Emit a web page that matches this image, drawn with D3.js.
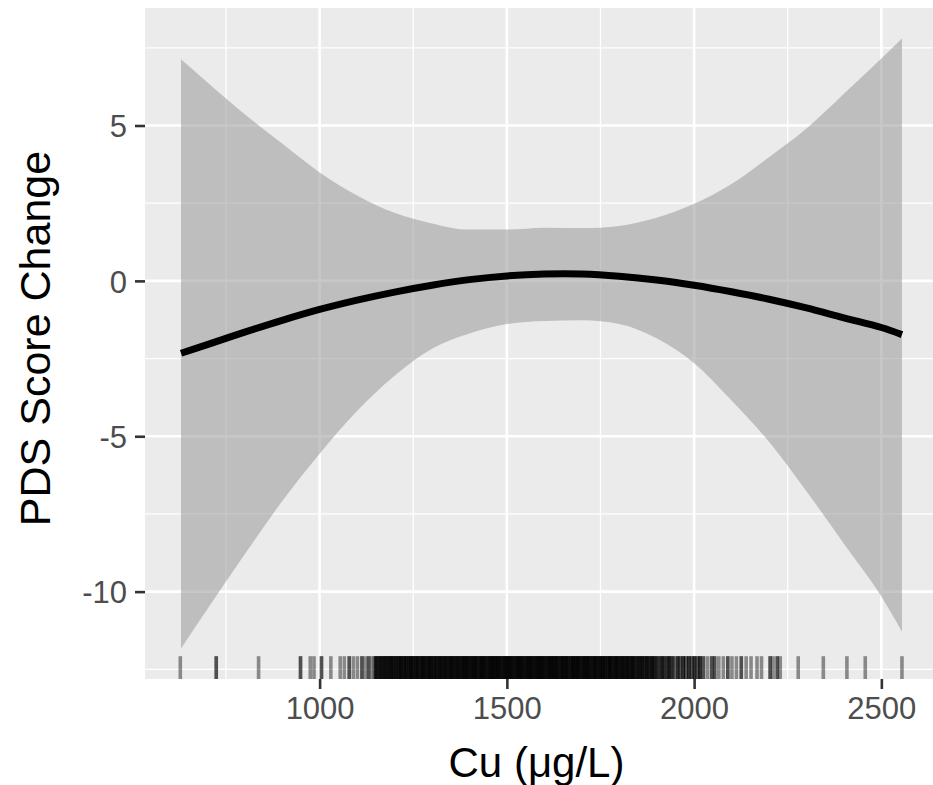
<!DOCTYPE html>
<html>
<head>
<meta charset="utf-8">
<script src="https://cdn.jsdelivr.net/npm/d3@7"></script>
<style>
body { margin: 0; background: #fff; }
text { font-family: "Liberation Sans", Arial, sans-serif; }
</style>
</head>
<body>
<div class="chart"></div>
<script>
// smooth fit
var cu = [630, 700, 800, 900, 1000, 1100, 1200, 1300, 1400, 1500, 1600,
    1700, 1800, 1900, 2000, 2100, 2200, 2300, 2400, 2500, 2555];
var fit = [-2.33, -2.05, -1.65, -1.27, -0.92, -0.62, -0.36, -0.14, 0.04, 0.16, 0.22,
    0.22, 0.15, 0.03, -0.14, -0.35, -0.59, -0.87, -1.19, -1.50, -1.73];
var upper = [7.13, 6.39, 5.36, 4.42, 3.49, 2.75, 2.19, 1.85, 1.65, 1.65, 1.71,
    1.70, 1.77, 2.03, 2.48, 3.12, 3.98, 4.90, 6.02, 7.16, 7.80];
var lower = [-11.83, -10.57, -8.80, -7.09, -5.56, -4.19, -3.05, -2.18, -1.69, -1.39, -1.29,
    -1.27, -1.39, -1.85, -2.65, -3.85, -5.18, -6.77, -8.46, -10.16, -11.29];

// rug: observed Cu values and how many observations share each
var rugLeft = [628, 724, 837, 949, 975, 985, 1005, 1030, 1055, 1066, 1079, 1090, 1101, 1113, 1122, 1131, 1140, 1146];
var rugLeftN = [1, 2, 1, 2, 1, 1, 2, 1, 1, 1, 2, 1, 1, 2, 1, 2, 1, 1];
var rugMid = [1150, 1154, 1159, 1163, 1168, 1172, 1177, 1181, 1186, 1190, 1195, 1199, 1204, 1208, 1213, 1217, 1222, 1226,
    1231, 1235, 1240, 1244, 1249, 1253, 1258, 1262, 1267, 1271, 1276, 1280, 1285, 1289, 1294, 1298, 1303, 1307,
    1312, 1316, 1321, 1325, 1330, 1334, 1339, 1343, 1348, 1352, 1357, 1361, 1366, 1370, 1375, 1379, 1384, 1388,
    1393, 1397, 1402, 1406, 1411, 1415, 1420, 1424, 1429, 1433, 1438, 1442, 1447, 1451, 1456, 1460, 1465, 1469,
    1474, 1478, 1483, 1487, 1492, 1496, 1501, 1505, 1510, 1514, 1519, 1523, 1528, 1532, 1537, 1541, 1546, 1550,
    1555, 1559, 1564, 1568, 1573, 1577, 1582, 1586, 1591, 1595, 1600, 1604, 1609, 1613, 1618, 1622, 1627, 1631,
    1636, 1640, 1645, 1649, 1654, 1658, 1663, 1667, 1672, 1676, 1681, 1685, 1690, 1694, 1699, 1703, 1708, 1712,
    1717, 1721, 1726, 1730, 1735, 1739, 1744, 1748, 1753, 1757, 1762, 1766, 1771, 1775, 1780, 1784, 1789, 1793,
    1798, 1802, 1807, 1811, 1816, 1820, 1825, 1829, 1834, 1838, 1843, 1847, 1852, 1856, 1861, 1865, 1870, 1874,
    1879, 1883, 1888, 1892, 1897, 1901, 1906, 1910, 1915, 1919, 1924, 1928, 1933, 1937, 1942, 1946];
var rugMidN = [3, 2, 2, 3, 2, 3, 2, 3, 2, 3, 3, 2, 3, 2, 3, 3, 2, 3,
    3, 2, 3, 3, 3, 2, 3, 3, 2, 3, 3, 3, 2, 3, 3, 3, 2, 3,
    3, 2, 3, 3, 2, 3, 3, 2, 3, 3, 3, 2, 3, 3, 2, 3, 3, 3,
    3, 3, 2, 3, 3, 3, 3, 2, 3, 3, 3, 3, 2, 3, 3, 3, 3, 3,
    3, 3, 3, 2, 3, 3, 3, 3, 3, 3, 2, 3, 3, 3, 3, 3, 2, 3,
    3, 3, 3, 3, 2, 3, 3, 3, 3, 3, 3, 2, 3, 3, 3, 3, 3, 3,
    3, 2, 3, 3, 3, 3, 3, 2, 3, 3, 3, 3, 3, 3, 2, 3, 3, 3,
    3, 3, 2, 3, 3, 3, 2, 3, 3, 3, 3, 2, 3, 3, 3, 2, 3, 3,
    3, 2, 3, 3, 2, 3, 3, 2, 3, 3, 2, 2, 3, 2, 3, 2, 2, 3,
    2, 2, 3, 2, 2, 2, 1, 2, 2, 2, 1, 2, 2, 2, 1, 2];
var rugRight = [1956, 1963, 1971, 1978, 1986, 1994, 2001, 2009, 2016, 2025, 2036, 2047, 2055, 2066, 2078, 2090, 2101, 2113,
    2126, 2139, 2152, 2168, 2180, 2203, 2211, 2222, 2230, 2278, 2345, 2408, 2457, 2555];
var rugRightN = [3, 2, 3, 2, 3, 2, 3, 2, 3, 2, 1, 2, 2, 1, 1, 2, 1, 1,
    2, 1, 1, 1, 1, 2, 1, 2, 1, 1, 1, 1, 1, 1];

var xTicks = [1000, 1500, 2000, 2500];
var xMinor = [750, 1250, 1750, 2250];
var yTicks = [-10, -5, 0, 5];
var yMinor = [-12.5, -7.5, -2.5, 2.5, 7.5];

var svgWidth = 933;
var svgHeight = 785;
var margin = {top: 8, right: -5, bottom: 106, left: 145};
var width = svgWidth - margin.left - margin.right;
var height = svgHeight - margin.top - margin.bottom;

var svg = d3.select(".chart")
    .append("svg")
    .attr("width", svgWidth)
    .attr("height", svgHeight);

var chartGroup = svg.append("g")
    .attr("transform", `translate(${margin.left}, ${margin.top})`);

// ggplot-style 5% expansion of the data range
var xExt = d3.extent(cu);
var xPad = (xExt[1] - xExt[0]) * 0.05;
var yLo = d3.min(lower), yHi = d3.max(upper);
var yPad = (yHi - yLo) * 0.05;

var xLinearScale = d3.scaleLinear()
    .domain([xExt[0] - xPad, xExt[1] + xPad])
    .range([0, width]);
var yLinearScale = d3.scaleLinear()
    .domain([yLo - yPad, yHi + yPad])
    .range([height, 0]);

// panel
chartGroup.append("rect")
    .attr("width", width)
    .attr("height", height)
    .attr("fill", "#EBEBEB");

// grid
chartGroup.selectAll(".xminor").data(xMinor).enter().append("line")
    .attr("x1", d => xLinearScale(d)).attr("x2", d => xLinearScale(d))
    .attr("y1", 0).attr("y2", height)
    .attr("stroke", "#fff").attr("stroke-width", 1.3);
chartGroup.selectAll(".yminor").data(yMinor).enter().append("line")
    .attr("y1", d => yLinearScale(d)).attr("y2", d => yLinearScale(d))
    .attr("x1", 0).attr("x2", width)
    .attr("stroke", "#fff").attr("stroke-width", 1.3);
chartGroup.selectAll(".xmajor").data(xTicks).enter().append("line")
    .attr("x1", d => xLinearScale(d)).attr("x2", d => xLinearScale(d))
    .attr("y1", 0).attr("y2", height)
    .attr("stroke", "#fff").attr("stroke-width", 2.6);
chartGroup.selectAll(".ymajor").data(yTicks).enter().append("line")
    .attr("y1", d => yLinearScale(d)).attr("y2", d => yLinearScale(d))
    .attr("x1", 0).attr("x2", width)
    .attr("stroke", "#fff").attr("stroke-width", 2.6);

var rows = cu.map((c, i) => ({cu: c, fit: fit[i], lo: lower[i], hi: upper[i]}));

var band = d3.area()
    .x(d => xLinearScale(d.cu))
    .y0(d => yLinearScale(d.lo))
    .y1(d => yLinearScale(d.hi))
    .curve(d3.curveMonotoneX);

chartGroup.append("path")
    .datum(rows)
    .attr("d", band)
    .attr("fill", "#999999")
    .attr("opacity", 0.55);

var fitLine = d3.line()
    .x(d => xLinearScale(d.cu))
    .y(d => yLinearScale(d.fit))
    .curve(d3.curveCatmullRom.alpha(0.5));

chartGroup.append("path")
    .datum(rows)
    .attr("d", fitLine)
    .attr("fill", "none")
    .attr("stroke", "#000")
    .attr("stroke-width", 7);

// rug
var rugCu = rugLeft.concat(rugMid, rugRight);
var rugN = rugLeftN.concat(rugMidN, rugRightN);
var rugData = rugCu.flatMap((v, i) => d3.range(rugN[i]).map(() => v));
chartGroup.append("g").selectAll("line").data(rugData)
    .enter()
    .append("line")
    .attr("x1", d => xLinearScale(d)).attr("x2", d => xLinearScale(d))
    .attr("y1", height).attr("y2", height - height * 0.034)
    .attr("stroke", "#000")
    .attr("stroke-opacity", 0.42)
    .attr("stroke-width", 3.6);

// axes
var bottomAxis = d3.axisBottom(xLinearScale).tickValues(xTicks)
    .tickSize(10).tickPadding(8).tickFormat(d => String(d));
var leftAxis = d3.axisLeft(yLinearScale).tickValues(yTicks)
    .tickSize(10).tickPadding(8).tickFormat(d => String(d));

var xg = chartGroup.append("g")
    .attr("transform", `translate(0, ${height})`)
    .call(bottomAxis);
var yg = chartGroup.append("g")
    .call(leftAxis);

[xg, yg].forEach(function(g) {
    g.select(".domain").remove();
    g.selectAll(".tick line").attr("stroke", "#333").attr("stroke-width", 2.6);
    g.selectAll(".tick text")
        .attr("fill", "#4D4D4D")
        .style("font-size", "31px")
        .style("font-family", "'Liberation Sans', Arial, sans-serif");
});
yg.selectAll(".tick text").attr("dy", "0.36em");

chartGroup.append("text")
    .attr("x", width / 2 - 5)
    .attr("y", height + 98)
    .attr("text-anchor", "middle")
    .style("font-size", "42px")
    .attr("fill", "#000")
    .text("Cu (\u03bcg/L)");

chartGroup.append("text")
    .attr("transform", "rotate(-90)")
    .attr("x", -height / 2 + 5)
    .attr("y", 50 - margin.left)
    .attr("text-anchor", "middle")
    .style("font-size", "43px")
    .attr("fill", "#000")
    .text("PDS Score Change");
</script>
</body>
</html>
